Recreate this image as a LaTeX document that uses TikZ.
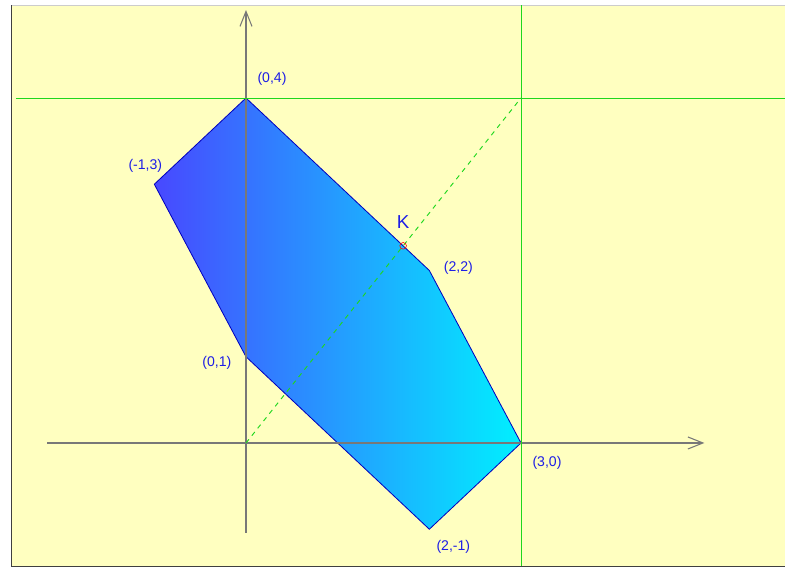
\documentclass[tikz,border=0pt]{standalone}
\usepackage{fontspec}
\setmainfont{Liberation Sans}
\usetikzlibrary{arrows.meta}
\definecolor{bgyellow}{RGB}{255,255,192}
\definecolor{lblblue}{RGB}{30,30,230}
\definecolor{edgeblue}{RGB}{0,0,190}
\definecolor{fillleft}{RGB}{72,72,255}
\definecolor{fillright}{RGB}{0,240,255}
\definecolor{linegreen}{RGB}{30,215,30}
\definecolor{axisgray}{RGB}{120,120,120}

\begin{document}
\begin{tikzpicture}[
    x=2.75cm, y=2.5875cm,
    axis/.style={axisgray, line width=0.9pt, -{Straight Barb[length=4.5mm,width=3.6mm]}},
    guide/.style={linegreen, line width=0.8pt},
    edge/.style={edgeblue, line width=0.7pt},
    lbl/.style={lblblue, font=\fontsize{12}{14}\selectfont, inner sep=0pt}
]
  \useasboundingbox (-2.6836,-1.4377) rectangle (5.880,5.136);
  % frame
  \fill[bgyellow] (-2.5636,-1.426) rectangle (5.95,5.078);
  \draw[gray!40, line width=0.8pt] (-2.5636,5.078) -- (5.95,5.078);
  \draw[darkgray, line width=0.8pt] (-2.5636,5.078) -- (-2.5636,-1.426) -- (5.95,-1.426);

  % vertices
  \coordinate (O) at (0,0);
  \coordinate (A) at (0,4);
  \coordinate (B) at (2,2);
  \coordinate (C) at (3,0);
  \coordinate (D) at (2,-1);
  \coordinate (E) at (0,1);
  \coordinate (F) at (-1,3);
  \coordinate (K) at (12/7,16/7);
  \coordinate (P) at (3,4);

  % feasible region
  \shade[left color=fillleft, right color=fillright] (A) -- (B) -- (C) -- (D) -- (E) -- (F) -- cycle;
  \draw[edge] (A) -- (B) -- (C) -- (D) -- (E) -- (F) -- cycle;

  % axes
  \draw[axis] (-2.17,0) -- (5.0,0);
  \draw[axis] (0,-1.043) -- (0,5.02);

  % guide lines
  \draw[guide] (-2.51,4) -- (5.95,4);
  \draw[guide] (3,5.078) -- (3,-1.426);
  \draw[guide, dash pattern=on 4pt off 4pt] (O) -- (P);

  \draw[red, line width=0.5pt] (K) circle[radius=0.1cm];

  % labels
  \node[lbl, xshift=22.2pt, yshift=16.2pt] (lA) at (A) {(0,4)};
  \node[lbl, xshift=24.8pt, yshift=2.6pt] (lB) at (B) {(2,2)};
  \node[lbl, xshift=22.2pt, yshift=-17.1pt] (lC) at (C) {(3,0)};
  \node[lbl, xshift=20.5pt, yshift=-15.4pt] (lD) at (D) {(2,-1)};
  \node[lbl, xshift=-24.8pt, yshift=-5.1pt] (lE) at (E) {(0,1)};
  \node[lbl, xshift=-7.7pt, yshift=15.4pt] (lF) at (F) {(-1,3)};
  \node[lbl, font=\fontsize{16}{18}\selectfont, yshift=20.5pt] (lK) at (K) {K};
\end{tikzpicture}
\end{document}
